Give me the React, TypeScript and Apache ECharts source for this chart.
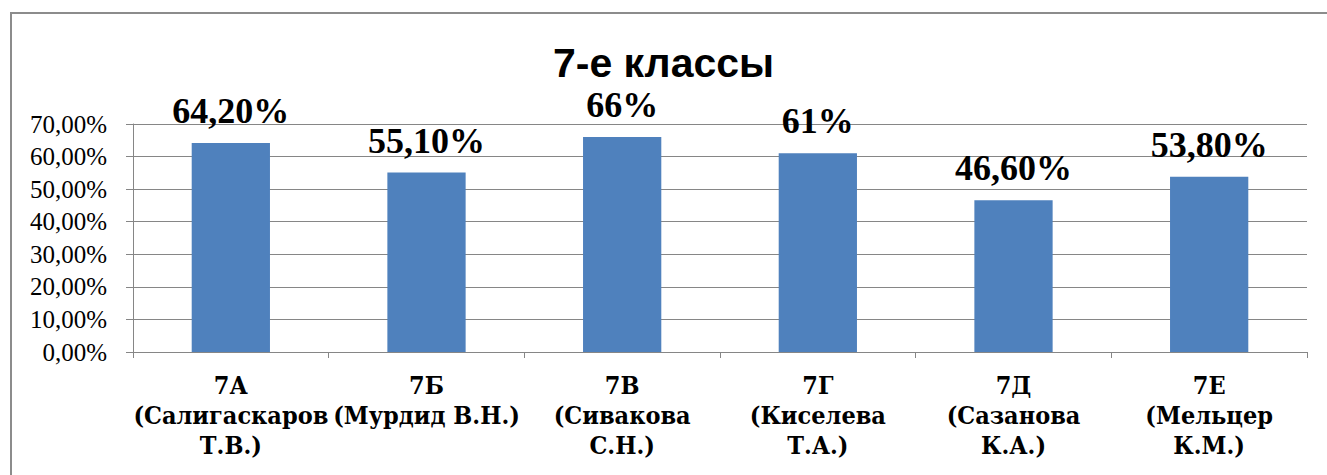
import React, { useEffect, useRef } from "react";
import * as echarts from "echarts";

const categories = [
  "7А\n(Салигаскаров\nТ.В.)",
  "7Б\n(Мурдид В.Н.)",
  "7В\n(Сивакова\nС.Н.)",
  "7Г\n(Киселева\nТ.А.)",
  "7Д\n(Сазанова\nК.А.)",
  "7Е\n(Мельцер\nК.М.)",
];
const values = [64.2, 55.1, 66, 61, 46.6, 53.8];
const valueLabels = ["64,20%", "55,10%", "66%", "61%", "46,60%", "53,80%"];
const yTicks = [0, 10, 20, 30, 40, 50, 60, 70];
const titleText = "7-е классы";

export default function App() {
  const ref = useRef<HTMLDivElement>(null);
  useEffect(() => {
    const chart = echarts.init(ref.current!, null, { renderer: "svg" });
    const axisGray = "#868686";
    chart.setOption({
      animation: false,
      backgroundColor: "#ffffff",
      title: {
        text: titleText,
        left: "center",
        top: 37,
        textStyle: {
          fontFamily: "Liberation Sans",
          fontWeight: "bold",
          fontSize: 41,
          color: "#000",
        },
      },
      graphic: [
        {
          type: "rect",
          shape: { x: 11, y: 13, width: 1400, height: 500 },
          style: { fill: "none", stroke: "#8c8c8c", lineWidth: 2 },
          silent: true,
        },
      ],
      grid: { left: 133, right: 20, top: 124, bottom: 123 },
      xAxis: {
        type: "category",
        data: categories,
        axisLine: { show: true, lineStyle: { color: axisGray, width: 1 } },
        axisTick: { show: true, alignWithLabel: false, length: 6, lineStyle: { color: axisGray } },
        axisLabel: {
          interval: 0,
          margin: 18,
          fontFamily: "DejaVu Serif Condensed",
          fontWeight: "bold",
          fontSize: 25,
          lineHeight: 30,
          color: "#000",
        },
      },
      yAxis: {
        type: "value",
        min: yTicks[0],
        max: yTicks[yTicks.length - 1],
        interval: 10,
        axisLine: { show: true, lineStyle: { color: axisGray, width: 1 } },
        axisTick: { show: true, length: 7, lineStyle: { color: axisGray } },
        splitLine: { show: true, lineStyle: { color: axisGray, width: 1 } },
        axisLabel: {
          margin: 26,
          fontFamily: "Liberation Serif",
          fontSize: 25,
          color: "#000",
          formatter: (v: number) => v.toFixed(2).replace(".", ",") + "%",
        },
      },
      series: [
        {
          type: "bar",
          data: values,
          barWidth: "40%",
          itemStyle: { color: "#4f81bd" },
          label: {
            show: true,
            position: "top",
            distance: 14,
            fontFamily: "Liberation Serif",
            fontWeight: "bold",
            fontSize: 36,
            color: "#000",
            formatter: (p: any) => valueLabels[p.dataIndex],
          },
        },
      ],
    });
    return () => chart.dispose();
  }, []);
  return (
    <div
      ref={ref}
      style={{ position: "fixed", left: 0, top: 0, width: 1327, height: 475 }}
    />
  );
}
